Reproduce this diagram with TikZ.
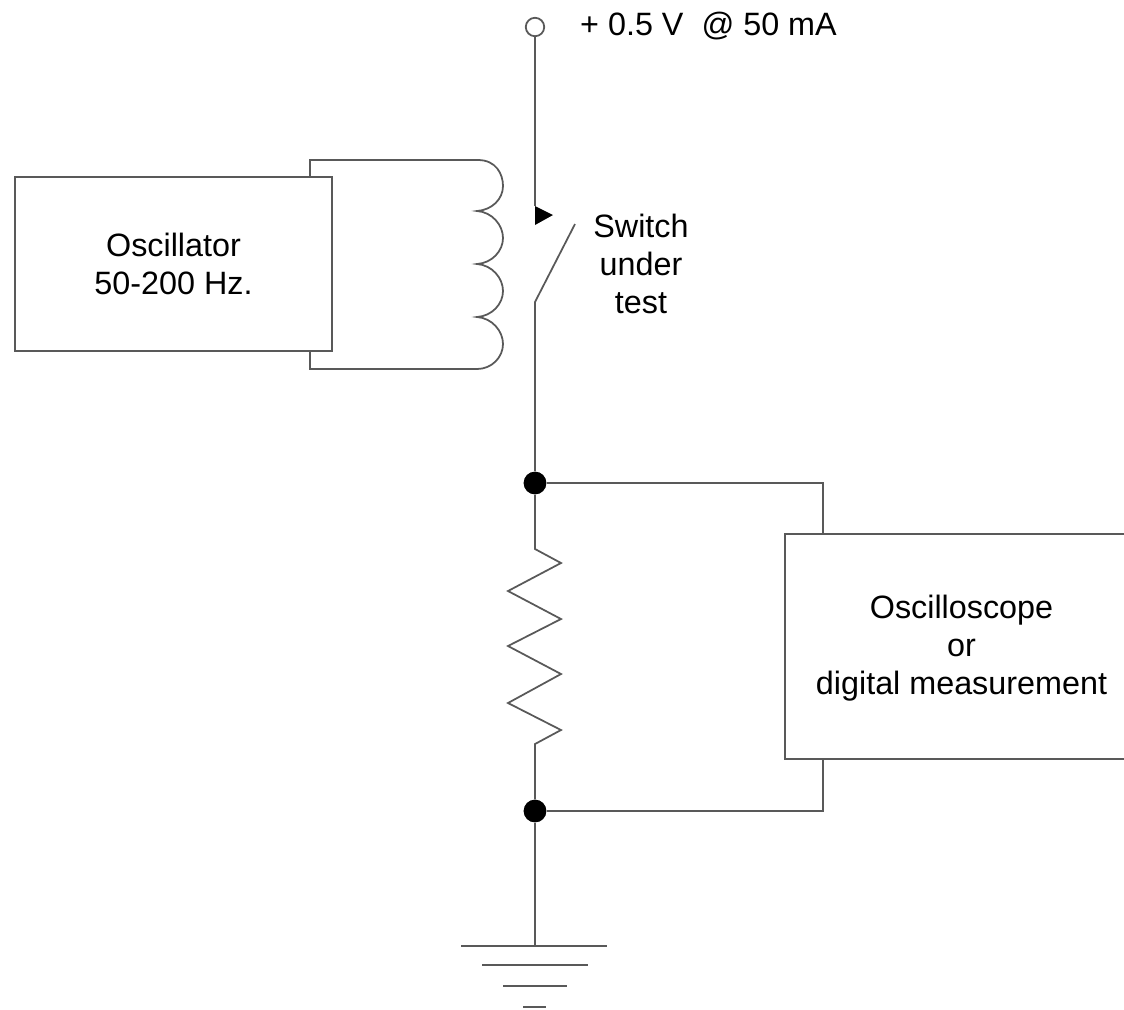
\documentclass[tikz,border=0pt]{standalone}
\usepackage{fontspec}
\setmainfont{Liberation Sans}
\tikzset{
  wire/.style={line width=1pt, draw=black!65, line join=miter},
  blockbox/.style={wire, fill=white, inner sep=0pt, align=center, font=\fontsize{18.4}{21.8}\selectfont, minimum width=6.34cm, minimum height=3.48cm},
  junction/.style={circle, fill=black, inner sep=0pt, minimum size=13pt},
  terminal/.style={circle, wire, fill=white, inner sep=0pt, minimum size=10.5pt},
  txt/.style={align=center, font=\fontsize{18.4}{21.8}\selectfont}
}
\begin{document}
\begin{tikzpicture}[x=0.02cm,y=-0.02cm]
    \useasboundingbox (0,0) rectangle (1124,1009);

    % Supply terminal
    \node[terminal] (vcc) at (535,27) {};
    \node[txt, anchor=west] (vcclabel) at (574,26) {+ 0.5 V\ \ @ 50 mA};

    % Main line nodes
    \coordinate (contact) at (535,206);
    \coordinate (hinge) at (535,302);
    \coordinate (swend) at (575,224);
    \node[junction] (jtop) at (535,483) {};
    \node[junction] (jbot) at (535,811) {};
    \coordinate (gnd) at (535,946);

    % Oscillator and its coil
    \draw[wire] (310,177) -- (310,160) -- (478,160)
        .. controls (496,160) and (503,174) .. (503,186)
        .. controls (503,199) and (492,210) .. (477,211)
        .. controls (492,212) and (503,225) .. (503,238)
        .. controls (503,251) and (492,263) .. (477,264)
        .. controls (492,265) and (503,278) .. (503,291)
        .. controls (503,304) and (492,316) .. (477,317)
        .. controls (492,318) and (503,331) .. (503,344)
        .. controls (503,357) and (492,369) .. (477,369)
        -- (310,369) -- (310,351);
    \node[blockbox, draw] (osc) at (173.5,264) {Oscillator\\50-200 Hz.};

    % Switch
    \draw[wire] (vcc) -- (contact);
    \fill[black] (contact) -- (553,215) -- (535,225) -- cycle;
    \draw[wire] (swend) -- (hinge) -- (jtop);
    \node[txt] (swlabel) at (641,264) {Switch\\under\\test};

    % Resistor
    \draw[wire] (jtop) -- (535,549) -- (561,563) -- (508,591) -- (561,619)
        -- (508,646) -- (561,674) -- (508,703) -- (561,730) -- (535,744) -- (jbot);

    % Oscilloscope
    \draw[wire] (jtop) -- (823,483) -- (823,534);
    \draw[wire] (jbot) -- (823,811) -- (823,759);
    \draw[wire] (1124,534) -- (785,534) -- (785,759) -- (1124,759);
    \node[txt] (scope) at (961.5,648) {Oscilloscope\\or\\digital measurement};

    % Ground
    \draw[wire] (jbot) -- (gnd);
    \draw[wire] (461,946) -- (607,946);
    \draw[wire] (482,965) -- (588,965);
    \draw[wire] (503,986) -- (567,986);
    \draw[wire] (523,1007) -- (546,1007);
\end{tikzpicture}
\end{document}
